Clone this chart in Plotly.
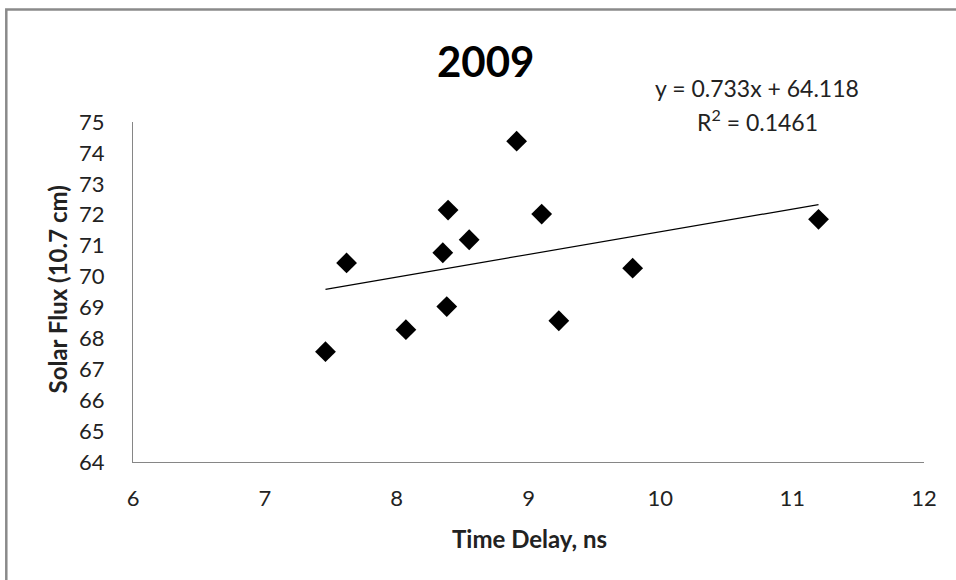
import plotly.graph_objects as go

# Time delay (ns) vs. 10.7 cm solar flux, 2009
time_delay = [7.46, 7.62, 8.07, 8.35, 8.39, 8.38, 8.55, 8.91, 9.10, 9.23, 9.79, 11.20]
solar_flux = [67.57, 70.44, 68.28, 70.77, 72.15, 69.03, 71.19, 74.38, 72.02, 68.57, 70.27, 71.85]

# Linear trendline coefficients
slope = 0.733
intercept = 64.118
r_squared = 0.1461

x_ticks = [6, 7, 8, 9, 10, 11, 12]
y_ticks = list(range(64, 76))

FONT = "Lato, 'Open Sans', sans-serif"
W, H = 956, 580
L, R, T, B = 133, 32, 122, 118
pw, ph = W - L - R, H - T - B


def px_x(p):
    return (p - L) / pw


def px_y(p):
    return (H - B - p) / ph


trend_x = [min(time_delay), max(time_delay)]
trend_y = [slope * v + intercept for v in trend_x]

fig = go.Figure()
fig.add_trace(go.Scatter(
    x=trend_x, y=trend_y, mode="lines",
    line=dict(color="black", width=1.2),
    showlegend=False, hoverinfo="skip",
))
fig.add_trace(go.Scatter(
    x=time_delay, y=solar_flux, mode="markers",
    marker=dict(symbol="diamond", size=16, color="black", line=dict(width=0)),
    showlegend=False,
))

axis_common = dict(
    showgrid=False, zeroline=False, showline=True,
    linecolor="#868686", linewidth=1,
    ticks="outside", tickcolor="rgba(0,0,0,0)",
    tickfont=dict(family=FONT, size=22, color="#222"),
)

fig.update_xaxes(range=[6, 12], tickvals=x_ticks, ticklen=17, **axis_common)
fig.update_yaxes(range=[64, 75], tickvals=y_ticks, ticklen=23, **axis_common)

annotations = [
    dict(text="<b>2009</b>", x=px_x(485), y=px_y(61),
         font=dict(family=FONT, size=42, color="black")),
    dict(text=f"y = {slope}x + {intercept}", x=px_x(757), y=px_y(88),
         font=dict(family=FONT, size=23, color="#222")),
    dict(text=f"R<sup>2</sup> = {r_squared}", x=px_x(757), y=px_y(120),
         font=dict(family=FONT, size=23, color="#222")),
    dict(text="<b>Time Delay, ns</b>", x=px_x(529), y=px_y(538),
         font=dict(family=FONT, size=24, color="#222")),
    dict(text="<b>Solar Flux (10.7 cm)</b>", x=px_x(57), y=px_y(289.5),
         textangle=-90, font=dict(family=FONT, size=24, color="#222")),
]
for a in annotations:
    a.update(xref="paper", yref="paper", showarrow=False,
             xanchor="center", yanchor="middle")

fig.update_layout(
    width=W, height=H,
    margin=dict(l=L, r=R, t=T, b=B),
    paper_bgcolor="white", plot_bgcolor="white",
    annotations=annotations,
    shapes=[dict(
        type="rect", xref="paper", yref="paper",
        x0=px_x(6.3), x1=px_x(965), y0=px_y(595), y1=px_y(9.5),
        line=dict(color="#8a8a8a", width=2.5), fillcolor="rgba(0,0,0,0)",
        layer="below",
    )],
)

fig.write_html("out.html")
